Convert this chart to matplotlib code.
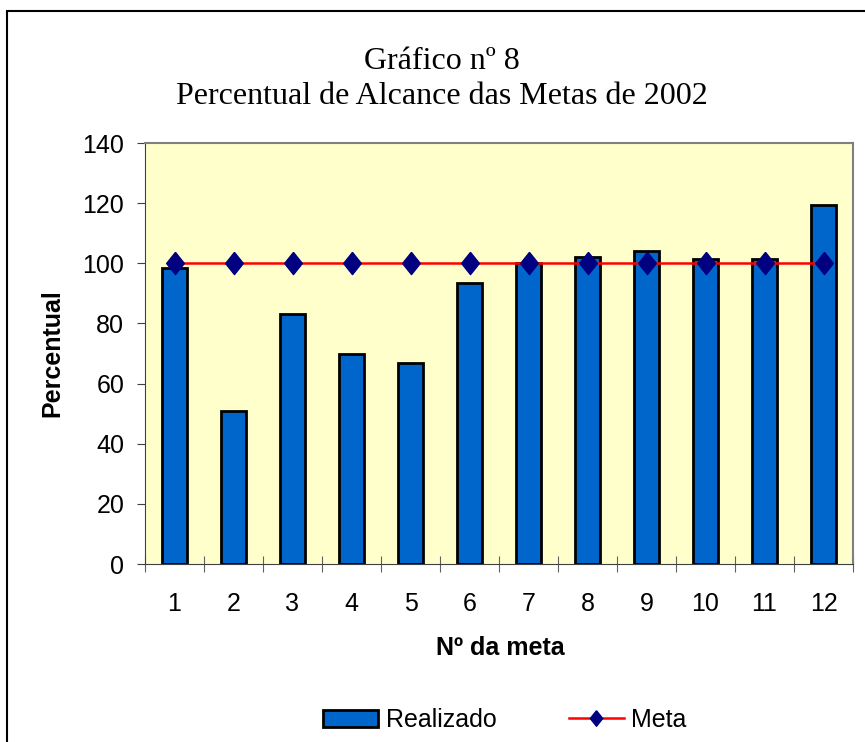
import matplotlib.pyplot as plt
from matplotlib.patches import Rectangle

metas = [1, 2, 3, 4, 5, 6, 7, 8, 9, 10, 11, 12]
realizado = [98.5, 51, 83, 70, 67, 93.5, 100, 102, 104, 101.5, 101.5, 119.5]
meta = [100, 100, 100, 100, 100, 100, 100, 100, 100, 100, 100, 100]

plt.rcParams['font.family'] = 'Liberation Sans'

fig = plt.figure(figsize=(8.65, 7.42), dpi=100)
# moldura do grafico (so aparecem topo e esquerda)
fig.patches.append(Rectangle((7/865, -0.1), 1.2, 1 - 11/742 + 0.1, transform=fig.transFigure,
                             fill=False, edgecolor='black', linewidth=1.5))

ax = fig.add_axes([145/865, 1 - 564/742, 708/865, 421/742])
ax.set_facecolor('#FFFFCC')

diamante = [(0, 1), (0.8, 0), (0, -1), (-0.8, 0), (0, 1)]
x = list(range(len(metas)))
b = ax.bar(x, realizado, width=0.41, color='#0066CC', edgecolor='black', linewidth=2,
           label='Realizado', zorder=2)
l, = ax.plot(x, meta, color='#FF0000', linewidth=1.8, marker=diamante, markersize=16,
             markerfacecolor='#000080', markeredgecolor='#000080', label='Meta', zorder=3)

ax.set_xlim(-0.5, len(metas) - 0.5)
ax.set_ylim(0, 140)
ax.set_yticks(range(0, 141, 20))
ax.tick_params(axis='y', labelsize=18, direction='out', length=6, color='#404040', pad=9)

# ticks nas divisorias das categorias
ax.set_xticks([i - 0.5 for i in range(len(metas) + 1)])
ax.set_xticklabels([])
ax.set_xticks(x, minor=True)
ax.set_xticklabels([str(m) for m in metas], minor=True)
ax.tick_params(axis='x', which='major', direction='inout', length=12, color='#606060')
ax.tick_params(axis='x', which='minor', length=0, labelsize=18, pad=20)

for s in ['top', 'right']:
    ax.spines[s].set_color('#808080')
    ax.spines[s].set_linewidth(1.5)
ax.spines['left'].set_color('#404040')
ax.spines['bottom'].set_color('#404040')

ax.set_xlabel('Nº da meta', fontsize=18, fontweight='bold')
ax.xaxis.label.set_va('baseline')
ax.xaxis.set_label_coords(500/865, 1 - 655/742, transform=fig.transFigure)
ax.set_ylabel('Percentual', fontsize=18, fontweight='bold')
ax.yaxis.label.set_va('center')
ax.yaxis.set_label_coords(52/865, 1 - 353/742, transform=fig.transFigure)

fig.text(442/865, 1 - 69/742, 'Gráfico nº 8', family='Liberation Serif', fontsize=23,
         ha='center', va='baseline')
fig.text(442/865, 1 - 104/742, 'Percentual de Alcance das Metas de 2002',
         family='Liberation Serif', fontsize=23, ha='center', va='baseline')

fig.legend([b, l], ['Realizado', 'Meta'], loc='center', bbox_to_anchor=(505/865, 1 - 720/742),
           ncol=2, frameon=False, fontsize=18, handlelength=2.2, handleheight=0.7,
           columnspacing=2.9, handletextpad=0.3, markerscale=0.7)

fig.savefig('out.png', dpi=100)
